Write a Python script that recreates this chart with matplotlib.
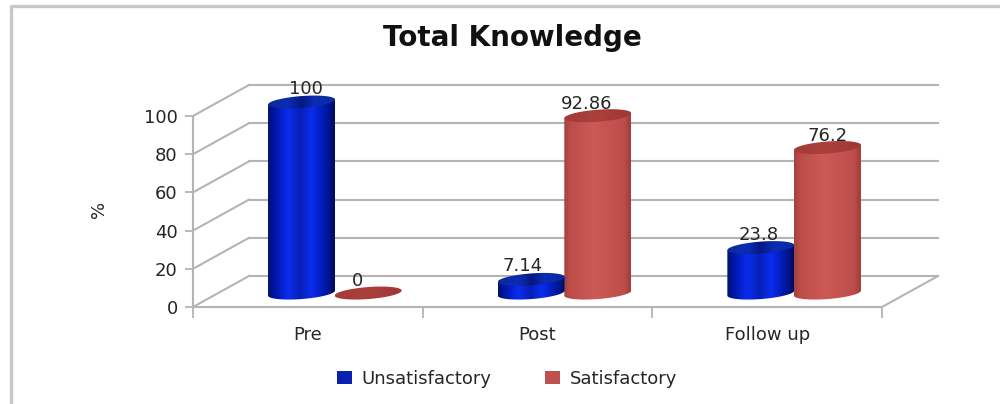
import numpy as np
import matplotlib
matplotlib.use("Agg")
import matplotlib.pyplot as plt
from matplotlib.colors import LinearSegmentedColormap
from matplotlib.patches import Polygon, Patch
from matplotlib.lines import Line2D

categories = ["Pre", "Post", "Follow up"]
unsatisfactory = [100, 7.14, 23.8]
satisfactory = [0, 92.86, 76.2]
unsat_labels = ["100", "7.14", "23.8"]
sat_labels = ["0", "92.86", "76.2"]
y_ticks = [0, 20, 40, 60, 80, 100]

W, H = 1000, 404
fig = plt.figure(figsize=(W / 100, H / 100), dpi=100, facecolor="white")
L, R, T, B = 193, 882, 116, 307
ax = fig.add_axes([L / W, 1 - B / H, (R - L) / W, (B - T) / H])
ax.set_facecolor("none")
px = 3 / (R - L)      # data x per pixel
py = 100 / (B - T)    # data y per pixel
dx, dy = 56 * px, 31 * py   # depth of the 3-D box
FONT = "DejaVu Sans"
GRID = "#b4b4b4"
TEXT = "#262626"
FS = 13

# outer frame
fig.add_artist(Line2D([10.5 / W, 10.5 / W, 1], [0, 1 - 5.5 / H, 1 - 5.5 / H],
                      color="#c8c8c8", lw=2.4, transform=fig.transFigure))

xlim = (-0.5, 2.5)
for v in y_ticks:
    ax.plot([xlim[0] + dx, xlim[1] + dx], [v + dy, v + dy], color=GRID, lw=1.5, clip_on=False, zorder=1)
    ax.plot([xlim[0], xlim[0] + dx], [v, v + dy], color=GRID, lw=1.5, clip_on=False, zorder=1)
ax.plot([xlim[1], xlim[1] + dx], [0, dy], color=GRID, lw=1.5, clip_on=False, zorder=1)

blue = LinearSegmentedColormap.from_list("b", [(0, "#00106e"), (.12, "#0018b0"), (.3, "#0a2cf0"),
                                               (.48, "#0820b8"), (.66, "#0a2cf0"), (.86, "#0018a8"), (1, "#000c60")])
red = LinearSegmentedColormap.from_list("r", [(0, "#a8403e"), (.1, "#bd4d4a"), (.45, "#cc5a56"),
                                              (.9, "#bd4d4a"), (1, "#a03c3a")])
blue_top = LinearSegmentedColormap.from_list("bt", [(0, "#0a2a9c"), (.3, "#0c2cb4"), (.5, "#041a80"),
                                                    (.7, "#0c2cb4"), (1, "#0a2a9c")])
red_top = LinearSegmentedColormap.from_list("rt", [(0, "#a33b38"), (.5, "#ab3f3c"), (1, "#9e3835")])

half_w = 33.5 * px
half_h = 6 * py
tilt = 2.5 * py
base = 7.3
grad = np.linspace(0, 1, 200).reshape(1, -1)


def painted(verts, cmap, x0, x1, y0, y1, z):
    patch = Polygon(verts, closed=True, transform=ax.transData, fc="none", ec="none")
    patch.set_clip_on(False)
    ax.add_patch(patch)
    im = ax.imshow(grad, cmap=cmap, extent=(x0, x1, y0, y1), aspect="auto", zorder=z, interpolation="bilinear")
    im.set_clip_box(fig.bbox)
    im.set_clip_path(patch)


def cylinder(cx, value, cmap, top_cmap, z):
    t = np.linspace(0, 2 * np.pi, 90)
    top = base + value
    ex = cx + half_w * np.cos(t)
    ey = half_h * np.sin(t) + tilt * np.cos(t)
    if value > 0:
        low = np.linspace(np.pi, 2 * np.pi, 45)
        lx = cx + half_w * np.cos(low)
        ly = base + half_h * np.sin(low) + tilt * np.cos(low)
        verts = np.vstack([np.column_stack([lx, ly]), [[cx + half_w, top + tilt], [cx - half_w, top - tilt]]])
        painted(verts, cmap, cx - half_w, cx + half_w, base - 3 * half_h, top + half_h, z)
    painted(np.column_stack([ex, top + ey]), top_cmap, cx - half_w, cx + half_w,
            top - 2 * half_h, top + 2 * half_h, z + 0.1)


pair = 0.29
shift = 27 * px
label_nudge_blue = [4, -9, -2]
label_nudge_red = [-11, -11, 0]
for i in range(len(categories)):
    cx_b = i + shift - pair / 2
    cx_r = i + shift + pair / 2
    cylinder(cx_r, satisfactory[i], red, red_top, 3 + i)
    cylinder(cx_b, unsatisfactory[i], blue, blue_top, 3.5 + i)
    ax.text(cx_b + label_nudge_blue[i] * px, base + unsatisfactory[i] + 4 * py, unsat_labels[i],
            ha="center", va="bottom", fontsize=FS, color=TEXT, family=FONT, zorder=10, clip_on=False)
    ax.text(cx_r + label_nudge_red[i] * px, base + satisfactory[i] + 3 * py, sat_labels[i],
            ha="center", va="bottom", fontsize=FS, color=TEXT, family=FONT, zorder=10, clip_on=False)

ax.set_xlim(*xlim)
ax.set_ylim(0, 100)
ax.set_yticks(y_ticks)
ax.set_xticks(np.arange(len(categories)))
ax.set_xticklabels(categories, fontsize=FS, color=TEXT, family=FONT)
ax.set_xticks(np.arange(-0.5, len(categories)), minor=True)
ax.tick_params(axis="x", which="major", length=0, pad=14)
ax.tick_params(axis="x", which="minor", length=8, width=1.3, color=GRID)
ax.tick_params(axis="y", length=6, width=1.3, color=GRID, labelsize=FS, labelcolor=TEXT, pad=5)
for s in ("top", "right"):
    ax.spines[s].set_visible(False)
for s in ("left", "bottom"):
    ax.spines[s].set_color(GRID)
    ax.spines[s].set_linewidth(1.5)
ax.set_ylabel("%", fontsize=FS, color=TEXT, family=FONT)
ax.yaxis.set_label_coords((108 - L) / (R - L), (B - 209) / (B - T))

fig.text(512 / W, 1 - 38 / H, "Total Knowledge", ha="center", va="center",
         fontsize=20, fontweight="bold", color="#111111", family=FONT)

handles = [Patch(fc="#0a20b0", ec="none"), Patch(fc="#c0504d", ec="none")]
fig.legend(handles, ["Unsatisfactory", "Satisfactory"], loc="center", bbox_to_anchor=(507 / W, 1 - 379 / H),
           ncol=2, frameon=False, fontsize=FS, handlelength=0.83, handleheight=0.7, handletextpad=0.5,
           columnspacing=3.0, labelcolor=TEXT)

fig.savefig("out.png", dpi=100, facecolor="white")
